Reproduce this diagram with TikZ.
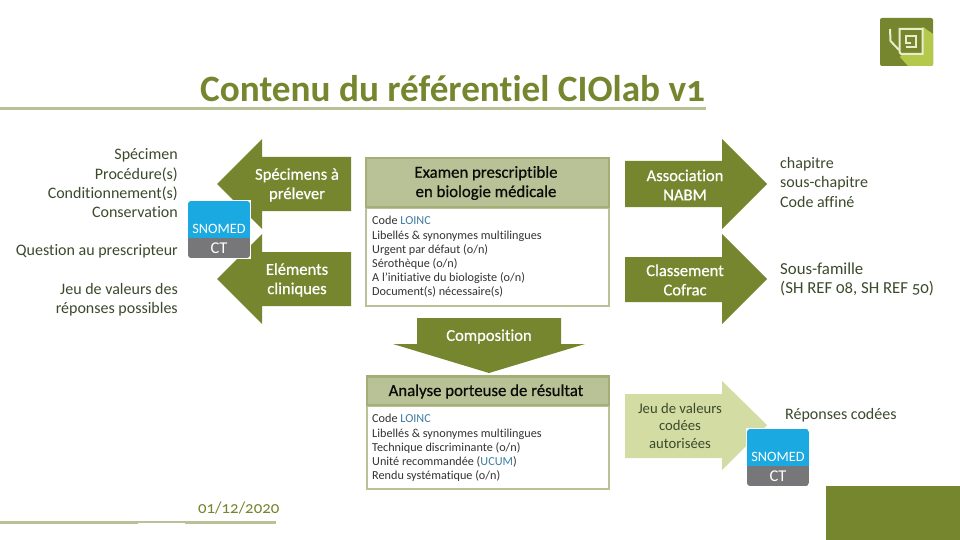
\documentclass[tikz,border=0pt]{standalone}
\usepackage{fontspec}
\setmainfont[Numbers=OldStyle,RawFeature={-liga}]{Carlito}
\newfontfamily\semib[Numbers=OldStyle,RawFeature={-liga},FakeBold=0.6]{Carlito}
\definecolor{olive}{HTML}{76862F}
\definecolor{lightolive}{HTML}{D3DCA3}
\definecolor{sage}{HTML}{B9C296}
\definecolor{sagedark}{HTML}{A4AF78}
\definecolor{txt}{HTML}{3C4A2C}
\definecolor{linkc}{HTML}{3E7C9E}
\definecolor{snoblue}{HTML}{1BA9E1}
\definecolor{snogrey}{HTML}{77777A}
\definecolor{logolight}{HTML}{B4C84C}
\definecolor{logoline}{HTML}{E9EDC9}
\newcommand{\lk}[1]{\textcolor{linkc}{#1}}
\newcommand{\fs}[2]{\fontsize{#1}{#2}\selectfont}
\tikzset{
  x=1pt,y=-1pt,
  arrowfill/.style={fill=olive,draw=none},
  arrowlabel/.style={text=white,align=center,font=\semib\fs{16.6}{19.3},inner sep=0pt},
  sidetext/.style={text=txt,inner sep=0pt,font=\fs{16}{19.3}},
  lefttext/.style={sidetext,anchor=east,align=right},
  righttext/.style={sidetext,anchor=west,align=left},
  headbox/.style={fill=sage,draw=sagedark,line width=2.5pt},
  bodybox/.style={fill=white,draw=sage,line width=2.5pt},
  headtext/.style={text=black!85!txt,align=center,inner sep=0pt,font=\semib\fs{16.8}{19.3}},
  bodytext/.style={text=black!80,anchor=west,align=left,inner sep=0pt,font=\fs{12.2}{14.2}},
  logoline/.style={draw=logoline,line width=2pt},
}
\newcommand{\snomed}[3]{% x, y, name
  \begin{scope}
    \fill[white] (#1-1,#2-1) rectangle (#1+63,#2+58);
    \clip[rounded corners=3pt] (#1,#2) rectangle (#1+62,#2+57);
    \fill[snoblue] (#1,#2) rectangle (#1+62,#2+37);
    \fill[snogrey] (#1,#2+37) rectangle (#1+62,#2+57);
  \end{scope}
  \node[text=white,inner sep=0pt,font=\fs{14.3}{14}] (#3a) at (#1+31,#2+28) {SNOMED};
  \node[text=white,inner sep=0pt,font=\fs{16.5}{14}] (#3b) at (#1+31,#2+47) {CT};
}
\begin{document}
\begin{tikzpicture}
\useasboundingbox (0,0) rectangle (960,540);
\fill[white] (0,0) rectangle (960,540);

% logo
\fill[olive,rounded corners=2pt] (880,18) rectangle (933,66);
\begin{scope}
  \clip[rounded corners=2pt] (880,18) rectangle (933,66);
  \fill[logolight] (933,34) -- (933,66) -- (908,66) -- (900,57) -- (923,27) -- cycle;
\end{scope}
\fill[olive] (899,28) rectangle (923,55);
\draw[logoline] (899.5,29) -- (922.5,29) -- (922.5,54) -- (901,54) -- (899.5,52) -- cycle;
\draw[logoline] (906,47) -- (916,47) -- (916,36) -- (906,36) -- (906,43) -- (911,43);
\draw[logoline] (890,29) -- (890.5,41) -- (899,50);

% title
\node[anchor=base west,text=olive,inner sep=0pt,font=\fs{37.2}{38}\bfseries] (title) at (200,101.5) {Contenu du référentiel CIOlab v1};
\fill[sage] (0,107.5) rectangle (706,110.5);

% left texts
\node[lefttext] (spec) at (178,183.5) {Spécimen\\Procédure(s)\\Conditionnement(s)\\Conservation};
\node[lefttext] (quest) at (178,251.5) {Question au prescripteur};
\node[lefttext] (jeu) at (178,299.5) {Jeu de valeurs des\\réponses possibles};

% left arrows
\fill[arrowfill] (217,184) -- (262,139) -- (262,157) -- (351,157) -- (351,211) -- (262,211) -- (262,229) -- cycle;
\fill[arrowfill] (217,279) -- (262,234) -- (262,252) -- (351,252) -- (351,306) -- (262,306) -- (262,324) -- cycle;
\node[arrowlabel] (aspec) at (297,185) {Spécimens à\\prélever};
\node[arrowlabel] (aelem) at (297,280) {Eléments\\cliniques};
\snomed{188}{201}{sa}

% exam box
\draw[bodybox] (366,208) rectangle (609,306);
\draw[headbox] (366,158) rectangle (609,207);
\node[headtext] (exam) at (486,183) {Examen prescriptible\\en biologie médicale};
\node[bodytext] (examb) at (372,257) {Code \lk{LOINC}\\Libellés \& synonymes multilingues\\Urgent par défaut (o/n)\\Sérothèque (o/n)\\A l’initiative du biologiste (o/n)\\Document(s) nécessaire(s)};

% right arrows
\fill[arrowfill] (625,161) -- (722,161) -- (722,139) -- (767,184) -- (722,229) -- (722,207) -- (625,207) -- cycle;
\fill[arrowfill] (625,257) -- (722,257) -- (722,234) -- (767,279) -- (722,324) -- (722,302) -- (625,302) -- cycle;
\node[arrowlabel] (anabm) at (685,185) {Association\\NABM};
\node[arrowlabel] (acof) at (685,280) {Classement\\Cofrac};
\node[righttext] (chap) at (780,182.5) {chapitre\\sous-chapitre\\Code affiné};
\node[righttext,font=\fs{16.8}{19.3}] (sous) at (780,279.5) {Sous-famille\\(SH REF 08, SH REF 50)};

% composition arrow
\fill[arrowfill] (417,318) -- (561,318) -- (561,344) -- (585,344) -- (489,373) -- (393,344) -- (417,344) -- cycle;
\node[arrowlabel] (acomp) at (489,336.5) {Composition};

% analyse box
\draw[bodybox] (367,406) rectangle (609,489);
\draw[headbox] (367,376.5) rectangle (609,405);
\node[headtext] (ana) at (486,391.5) {Analyse porteuse de résultat};
\node[bodytext] (anab) at (372,448) {Code \lk{LOINC}\\Libellés \& synonymes multilingues\\Technique discriminante (o/n)\\Unité recommandée (\lk{UCUM})\\Rendu systématique (o/n)};

% light arrow
\fill[lightolive] (625,394) -- (722,394) -- (722,381) -- (767,425) -- (722,470) -- (722,458) -- (625,458) -- cycle;
\node[align=center,text=txt,inner sep=0pt,font=\fs{14.7}{17.5}] (ajeu) at (680,425.5) {Jeu de valeurs\\codées\\autorisées};
\snomed{747}{429}{sb}
\node[righttext] (rep) at (785,415) {Réponses codées};

% footer
\fill[olive] (826,486) rectangle (960,540);
\node[anchor=base west,text=olive,inner sep=0pt,font=\fs{16.8}{18}] (date) at (198,513) {01/12/2020};
\fill[sage] (0,520.5) rectangle (138,523.5);
\fill[sage] (138,520.5) rectangle (185,522.5);
\fill[sage] (185,520.5) rectangle (276,523.5);
\end{tikzpicture}
\end{document}
